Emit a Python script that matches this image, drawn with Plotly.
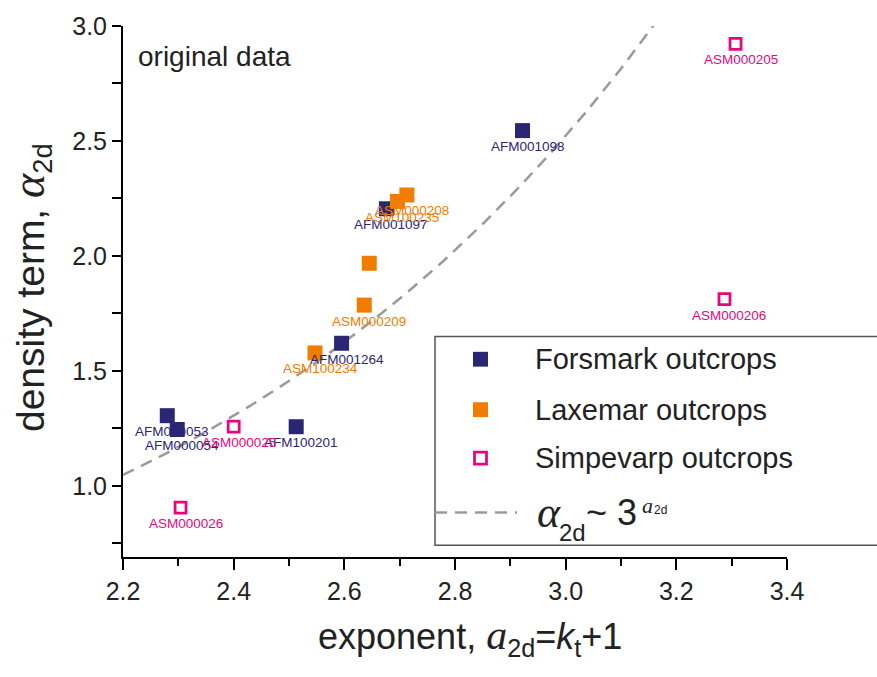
import plotly.graph_objects as go
import numpy as np

# ---- data ----
fors_names = ["AFM001098", "AFM001097", "AFM001264", "AFM100201", "AFM000053", "AFM000054"]
fors_x = [2.922, 2.676, 2.595, 2.513, 2.280, 2.298]
fors_y = [2.545, 2.205, 1.620, 1.257, 1.305, 1.245]

lax_names = ["ASM000208", "ASM100235", "", "ASM000209", "ASM100234"]
lax_x = [2.713, 2.696, 2.645, 2.636, 2.547]
lax_y = [2.265, 2.237, 1.968, 1.786, 1.578]

simp_names = ["ASM000205", "ASM000206", "ASM000025", "ASM000026"]
simp_x = [3.307, 3.287, 2.400, 2.304]
simp_y = [2.922, 1.812, 1.257, 0.905]

fit_coef = 0.0934  # alpha_2d ~ c * 3^a_2d
x_ticks = [2.2, 2.4, 2.6, 2.8, 3.0, 3.2, 3.4]
y_ticks = [1.0, 1.5, 2.0, 2.5, 3.0]

NAVY = "#2b2673"
ORANGE = "#f07c00"
PINK = "#e6087a"
SANS = "Liberation Sans, Arial, sans-serif"
SERIF = "Liberation Serif, Times New Roman, serif"

W, H = 877, 677
L, R, T, B = 123, 787, 20, 557  # plot area in pixels


def px(x):
    return (x - L) / (R - L)


def py(y):
    return (B - y) / (B - T)


fig = go.Figure()

fit_x = np.linspace(2.2, 3.3, 200)
fig.add_trace(go.Scatter(x=fit_x, y=fit_coef * 3 ** fit_x, mode="lines",
                         line=dict(color="#9a9a9a", width=2.5, dash="12px,8px"),
                         showlegend=False, hoverinfo="skip"))

fig.add_trace(go.Scatter(x=fors_x, y=fors_y, mode="markers",
                         marker=dict(symbol="square", size=15, color=NAVY, line=dict(width=0)),
                         showlegend=False))
fig.add_trace(go.Scatter(x=lax_x, y=lax_y, mode="markers",
                         marker=dict(symbol="square", size=15, color=ORANGE, line=dict(width=0)),
                         showlegend=False))
fig.add_trace(go.Scatter(x=simp_x, y=simp_y, mode="markers",
                         marker=dict(symbol="square", size=11, color="white",
                                     line=dict(width=2.8, color=PINK)),
                         showlegend=False))

annotations = []


def add_labels(names, xs, ys, color):
    for n, x, y in zip(names, xs, ys):
        if not n:
            continue
        annotations.append(dict(x=x, y=y, xref="x", yref="y", text=n, showarrow=False,
                                xshift=5, yshift=-16,
                                font=dict(family=SANS, size=13.5, color=color)))


add_labels(fors_names, fors_x, fors_y, NAVY)
add_labels(lax_names, lax_x, lax_y, ORANGE)
add_labels(simp_names, simp_x, simp_y, PINK)

# text "original data"
annotations.append(dict(x=px(136), y=py(51), xref="paper", yref="paper", text="original data",
                        showarrow=False, xanchor="left", yanchor="middle",
                        font=dict(family=SANS, size=28, color="#222222")))

# axis titles
annotations.append(dict(x=px(470), y=py(638), xref="paper", yref="paper",
                        text="exponent, <span style=\"font-family:Liberation Serif;font-size:42px\"><i>a</i></span><sub>2d</sub>=<i>k</i><sub>t</sub>+1",
                        showarrow=False, xanchor="center", yanchor="middle",
                        font=dict(family=SANS, size=36, color="#222222")))
annotations.append(dict(x=px(30), y=py(285), xref="paper", yref="paper",
                        text="density term, <span style=\"font-family:Liberation Serif;font-size:46px\"><i>α</i></span><sub>2d</sub>",
                        textangle=-90, showarrow=False, xanchor="center", yanchor="middle",
                        font=dict(family=SANS, size=39, color="#222222")))

shapes = []
# legend box
shapes.append(dict(type="rect", xref="paper", yref="paper", x0=px(435), x1=px(900),
                   y0=py(545), y1=py(334), line=dict(color="#555555", width=1.5),
                   fillcolor="white", layer="above"))
leg_items = [("Forsmark outcrops", 357, NAVY, True),
             ("Laxemar outcrops", 408, ORANGE, True),
             ("Simpevarp outcrops", 457, PINK, False)]
for label, yy, col, filled in leg_items:
    if filled:
        shapes.append(dict(type="rect", xref="paper", yref="paper", x0=px(473), x1=px(488),
                           y0=py(yy + 7.5), y1=py(yy - 7.5), fillcolor=col,
                           line=dict(width=0), layer="above"))
    else:
        shapes.append(dict(type="rect", xref="paper", yref="paper", x0=px(474.5), x1=px(486.5),
                           y0=py(yy + 6), y1=py(yy - 6), fillcolor="white",
                           line=dict(width=2.8, color=col), layer="above"))
    annotations.append(dict(x=px(533), y=py(yy), xref="paper", yref="paper", text=label,
                            showarrow=False, xanchor="left", yanchor="middle",
                            font=dict(family=SANS, size=29, color="#222222")))
shapes.append(dict(type="line", xref="paper", yref="paper", x0=px(435), x1=px(517),
                   y0=py(512), y1=py(512), line=dict(color="#9a9a9a", width=2.5, dash="12px,8px"),
                   layer="above"))
# formula pieces
annotations.append(dict(x=px(535), y=py(512), xref="paper", yref="paper", text="<i>α</i>",
                        showarrow=False, xanchor="left", yanchor="middle",
                        font=dict(family=SERIF, size=44, color="#222222")))
annotations.append(dict(x=px(557), y=py(532), xref="paper", yref="paper", text="2d",
                        showarrow=False, xanchor="left", yanchor="middle",
                        font=dict(family=SANS, size=24, color="#222222")))
annotations.append(dict(x=px(584), y=py(512), xref="paper", yref="paper", text="~ 3",
                        showarrow=False, xanchor="left", yanchor="middle",
                        font=dict(family=SANS, size=36, color="#222222")))
annotations.append(dict(x=px(640), y=py(505), xref="paper", yref="paper", text="<i>a</i>",
                        showarrow=False, xanchor="left", yanchor="middle",
                        font=dict(family=SERIF, size=22, color="#222222")))
annotations.append(dict(x=px(652), y=py(509), xref="paper", yref="paper", text="2d",
                        showarrow=False, xanchor="left", yanchor="middle",
                        font=dict(family=SANS, size=12, color="#222222")))

y_bottom = 3.0 - (B - T) / 232.5

fig.update_layout(
    width=W, height=H, margin=dict(l=L, r=W - R, t=T, b=H - B),
    paper_bgcolor="white", plot_bgcolor="white",
    showlegend=False, annotations=annotations, shapes=shapes,
    xaxis=dict(range=[2.2, 3.4], tickvals=x_ticks, ticktext=[f"{v:.1f}" for v in x_ticks],
               ticks="outside", ticklen=11, tickwidth=1.5, tickcolor="black",
               showline=True, linewidth=2, linecolor="black", showgrid=False, zeroline=False,
               minor=dict(dtick=0.1, tick0=2.2, ticks="outside", ticklen=7, tickwidth=1.5,
                          tickcolor="black", showgrid=False),
               tickfont=dict(family=SANS, size=25, color="#222222")),
    yaxis=dict(range=[y_bottom, 3.0], tickvals=y_ticks, ticktext=[f"{v:.1f}" for v in y_ticks],
               ticks="outside", ticklen=9, tickwidth=1.5, tickcolor="black",
               showline=True, linewidth=2, linecolor="black", showgrid=False, zeroline=False,
               minor=dict(dtick=0.25, tick0=0.75, ticks="outside", ticklen=9, tickwidth=1.5,
                          tickcolor="black", showgrid=False),
               tickfont=dict(family=SANS, size=25, color="#222222")),
)

fig.write_html("out.html")
